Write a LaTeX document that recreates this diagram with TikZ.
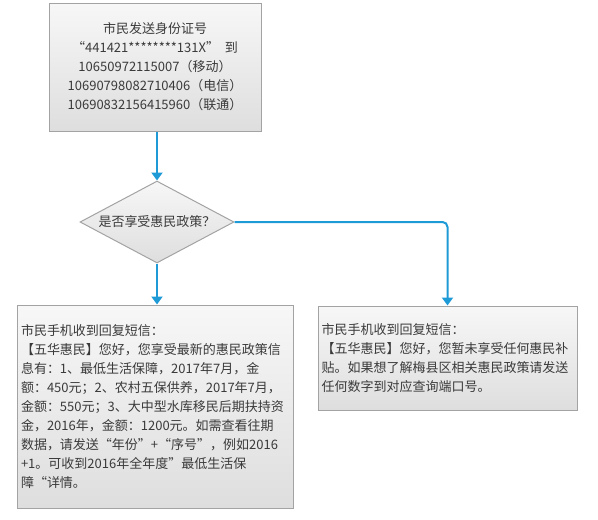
\documentclass[tikz,border=0pt]{standalone}
\usepackage{fontspec}
\setmainfont{Noto Sans CJK SC}
\usepackage{tikz}
\usetikzlibrary{shapes.geometric,arrows.meta,positioning}
\definecolor{flowblue}{HTML}{1E9AD6}
\definecolor{boxline}{HTML}{A3A3A3}
\definecolor{boxtop}{HTML}{F7F7F7}
\definecolor{boxbottom}{HTML}{DEDEDE}
\definecolor{msgtext}{HTML}{3A3A3A}
\tikzset{
  msgbox/.style={rectangle,draw=boxline,line width=1pt,top color=boxtop,bottom color=boxbottom,
    text=msgtext,font=\fontsize{13}{19}\selectfont,inner sep=0pt},
  decision/.style={diamond,draw=boxline,line width=1pt,top color=boxtop,bottom color=boxbottom,
    text=msgtext,font=\fontsize{13}{19}\selectfont,aspect=1.88,inner sep=0pt,
    minimum width=154pt,minimum height=82pt},
  flowarrow/.style={-{Triangle[length=8pt,width=11pt]},line width=2pt,draw=flowblue,rounded corners=5pt},
}
\begin{document}
\begin{tikzpicture}[x=1pt,y=-1pt]
  \useasboundingbox (0,0) rectangle (598,520);
  \node[msgbox,minimum width=212pt,minimum height=128pt,align=center] (send) at (155,67) {
    市民发送身份证号\\
    “441421********131X”\ \ 到\\
    10650972115007（移动）\\
    10690798082710406（电信）\\
    10690832156415960（联通）};
  \node[decision] (ask) at (157,222) {是否享受惠民政策？};
  \node[msgbox,minimum width=276pt,minimum height=203pt,text width=268pt,align=left] (yes) at (155,406.5) {
    市民手机收到回复短信：\\
    【五华惠民】您好，您享受最新的惠民政策信\\
    息有：1、最低生活保障，2017年7月，金\\
    额：450元；2、农村五保供养，2017年7月，\\
    金额：550元；3、大中型水库移民后期扶持资\\
    金，2016年，金额：1200元。如需查看往期\\
    数据，请发送“年份”+“序号”，例如2016\\
    +1。可收到2016年全年度”最低生活保\\
    障“详情。};
  \node[msgbox,minimum width=259pt,minimum height=104pt,text width=252pt,align=left] (no) at (447.5,358) {
    市民手机收到回复短信：\\
    【五华惠民】您好，您暂未享受任何惠民补\\
    贴。如果想了解梅县区相关惠民政策请发送\\
    任何数字到对应查询端口号。};
  \draw[flowarrow] (send.south -| ask.north) -- (ask.north);
  \draw[flowarrow] (ask.south) -- (ask.south |- yes.north);
  \draw[flowarrow] (ask.east) -| (no.north);
\end{tikzpicture}
\end{document}
